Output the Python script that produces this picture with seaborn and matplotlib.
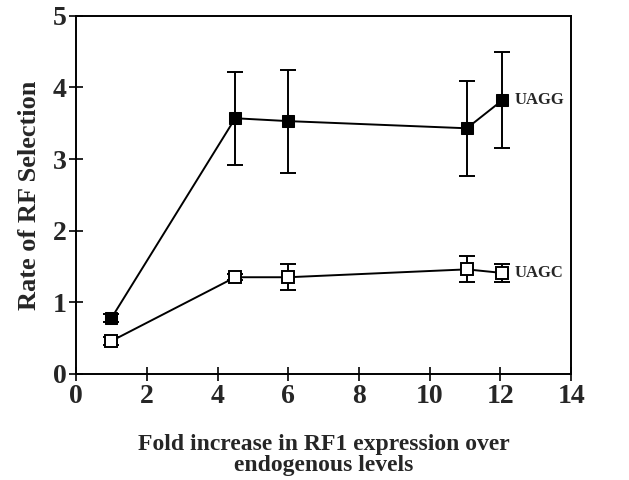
import matplotlib
matplotlib.use("Agg")
import matplotlib.pyplot as plt
import seaborn as sns
import pandas as pd

# values
fold = [1.0, 4.5, 6.0, 11.05, 12.05]
uagg = [0.78, 3.57, 3.53, 3.43, 3.82]
uagg_err = [0.05, 0.65, 0.72, 0.66, 0.67]
uagc = [0.46, 1.35, 1.35, 1.46, 1.41]
uagc_err = [0.05, 0.04, 0.18, 0.18, 0.12]

sns.set_style("white")
plt.rcParams['font.family'] = ['Liberation Serif', 'DejaVu Serif']
plt.rcParams['font.weight'] = 'bold'

df = pd.DataFrame({
    'fold': fold * 2,
    'rate': uagg + uagc,
    'codon': ['UAGG'] * len(fold) + ['UAGC'] * len(fold),
})

fig = plt.figure(figsize=(6.29, 4.8), dpi=100)
ax = fig.add_axes([0.121, 0.221, 0.787, 0.746])

# error bars first so the markers sit on top
ax.errorbar(fold, uagg, yerr=uagg_err, fmt='none', ecolor='black',
            elinewidth=1.4, capsize=6, capthick=1.4)
ax.errorbar(fold, uagc, yerr=uagc_err, fmt='none', ecolor='black',
            elinewidth=1.4, capsize=6, capthick=1.4)

sns.lineplot(data=df[df.codon == 'UAGG'], x='fold', y='rate', ax=ax,
             color='black', lw=1.4, marker='s', markersize=8,
             markerfacecolor='black', markeredgecolor='black', zorder=3)
sns.lineplot(data=df[df.codon == 'UAGC'], x='fold', y='rate', ax=ax,
             color='black', lw=1.4, marker='s', markersize=8,
             markerfacecolor='white', markeredgecolor='black',
             markeredgewidth=1.4, zorder=3)

ax.text(fold[-1] + 0.35, uagg[-1], 'UAGG', fontsize=12, fontweight='bold',
        va='center', ha='left')
ax.text(fold[-1] + 0.35, uagc[-1], 'UAGC', fontsize=12, fontweight='bold',
        va='center', ha='left')

ax.set_xlim(0, 14)
ax.set_ylim(0, 5)
ax.set_xticks(range(0, 15, 2))
ax.set_yticks(range(0, 6))
ax.tick_params(direction='inout', length=10, width=1.4, labelsize=20,
               bottom=True, left=True, pad=2)
for lab in ax.get_xticklabels() + ax.get_yticklabels():
    lab.set_fontweight('bold')
for sp in ax.spines.values():
    sp.set_color('black')
    sp.set_linewidth(1.4)

ax.set_xlabel('Fold increase in RF1 expression over\nendogenous levels',
              fontsize=17, fontweight='bold', labelpad=18, linespacing=1.05)
ax.set_ylabel('Rate of RF Selection', fontsize=19, fontweight='bold',
              labelpad=8)
ax.legend_ = None

fig.savefig('out.png', dpi=100)
